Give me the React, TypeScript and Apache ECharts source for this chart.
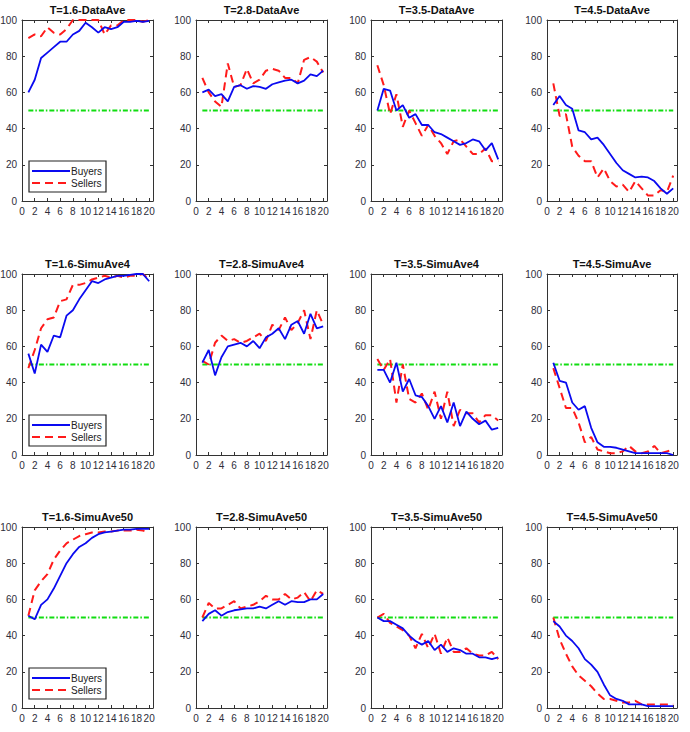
import React, { useEffect, useRef } from "react";
import * as echarts from "echarts";

// ---- data -------------------------------------------------------------
const periods = [1, 2, 3, 4, 5, 6, 7, 8, 9, 10, 11, 12, 13, 14, 15, 16, 17, 18, 19, 20];
const xTicks = [0, 2, 4, 6, 8, 10, 12, 14, 16, 18, 20];
const yTicks = [0, 20, 40, 60, 80, 100];
const referenceLevel = 50;

const titles = [
  "T=1.6-DataAve", "T=2.8-DataAve", "T=3.5-DataAve", "T=4.5-DataAve",
  "T=1.6-SimuAve4", "T=2.8-SimuAve4", "T=3.5-SimuAve4", "T=4.5-SimuAve",
  "T=1.6-SimuAve50", "T=2.8-SimuAve50", "T=3.5-SimuAve50", "T=4.5-SimuAve50",
];

// Row 1: experimental data averages
const buyersData16 = [60, 67, 79, 82, 85, 88, 88, 92, 94, 98.5, 96, 93, 96, 95, 96, 99, 99, 99.5, 99, 99.5];
const sellersData16 = [90, 92, 91, 96, 93, 92, 95, 100, 100, 100, 100, 100, 92, 97, 97, 100, 100, 100, 99, 100];
const buyersData28 = [60, 61.5, 58, 59, 55, 63, 64, 62, 63.5, 63, 62, 64.5, 65.5, 66.5, 67, 65, 66.5, 70, 69, 72];
const sellersData28 = [68, 60, 55, 52, 76, 63, 64, 73, 65, 67, 72, 73, 72, 68, 68, 65, 78, 79.5, 77, 71];
const buyersData35 = [50, 62, 61, 50, 53, 46, 48, 42, 42, 38, 37, 35, 33, 31, 32, 34, 33, 28, 32, 23];
const sellersData35 = [75, 64, 48, 59, 41, 50, 43, 36, 42, 36, 32, 26, 33, 34, 30, 26, 26, 29, 22, 22];
const buyersData45 = [53, 58, 53, 51, 39, 38, 34, 35, 31, 26, 21, 17, 15, 13, 13.5, 13, 11, 7, 4, 7];
const sellersData45 = [65, 47, 48, 30, 25, 22, 22, 13, 18, 11, 8, 9, 5, 11, 7, 3, 3, 6, 5, 14];

// Row 2: simulation, 4-run averages
const buyersSim4_16 = [56, 45, 61, 57, 66, 65, 77, 80, 86, 91, 96, 95, 97, 98, 99, 99, 99.5, 100, 100, 96];
const sellersSim4_16 = [48, 58, 70, 75, 76, 85, 86, 94, 94, 95, 97, 98, 99, 98, 99, 98, 99, 99, 100, 97];
const buyersSim4_28 = [51, 58, 44, 54, 60, 61, 62, 60, 63, 59, 65, 67, 70, 64, 72, 74, 67, 78, 70, 71];
const sellersSim4_28 = [52, 50, 62, 66, 63, 64, 62, 63, 65, 67, 63, 72, 69, 76, 69, 73, 80, 64, 80, 72];
const buyersSim4_35 = [47, 47, 40, 51, 35, 42, 33, 32, 27, 20, 27, 18, 29, 16, 24, 20, 17, 19, 14, 15];
const sellersSim4_35 = [53, 47, 53, 29, 50, 31, 29, 34, 25, 35, 20, 35, 16, 25, 23, 23, 18, 22, 22, 19];
const buyersSim4_45 = [51, 41, 40, 29, 25, 27, 15, 7, 4.5, 4.5, 4, 3, 2, 1, 1, 1, 1, 1, 1, 0];
const sellersSim4_45 = [48, 37, 26, 26, 18, 7, 10, 3, 2, 1, 1, 2, 5, 2, 1, 2, 5, 1, 2, 3];

// Row 3: simulation, 50-run averages
const buyersSim50_16 = [51, 49, 57, 60, 66, 73, 80, 85, 89, 91, 94, 96, 97, 97.5, 98, 98.5, 98.5, 99, 99, 99];
const sellersSim50_16 = [51, 65, 70, 74, 82, 87, 91, 93, 95, 96, 97, 97, 97.5, 97.5, 98, 98, 98, 98.5, 98, 97];
const buyersSim50_28 = [48, 52, 54, 51, 53, 54, 54.5, 55, 55, 56, 55, 57, 59, 57, 59, 58.5, 58.5, 60, 60, 63];
const sellersSim50_28 = [50, 58, 55, 55, 57, 59, 55, 56, 57, 59, 62, 60, 60, 63, 60, 61, 64, 59, 65, 63];
const buyersSim50_35 = [50, 48, 48, 46, 44, 40, 37, 35, 37, 32, 35, 31, 33, 32, 30, 30, 28, 28, 27, 28];
const sellersSim50_35 = [50, 52, 47, 45, 43, 40, 33, 41, 33, 41, 30, 39, 31, 31, 33, 30, 29, 29, 31, 27];
const buyersSim50_45 = [48, 45, 40, 37, 33, 27, 24, 20, 13, 7, 5, 4, 2, 2, 2, 1, 1, 1, 1, 1];
const sellersSim50_45 = [50, 38, 30, 23, 18, 15, 12, 8, 5, 5, 4, 3, 3, 4, 2, 2, 2, 2, 2, 2];

const buyersSeries = [
  buyersData16, buyersData28, buyersData35, buyersData45,
  buyersSim4_16, buyersSim4_28, buyersSim4_35, buyersSim4_45,
  buyersSim50_16, buyersSim50_28, buyersSim50_35, buyersSim50_45,
];
const sellersSeries = [
  sellersData16, sellersData28, sellersData35, sellersData45,
  sellersSim4_16, sellersSim4_28, sellersSim4_35, sellersSim4_45,
  sellersSim50_16, sellersSim50_28, sellersSim50_35, sellersSim50_45,
];

// ---- layout -----------------------------------------------------------
const GRID_LEFT = [22, 196, 371, 547];
const GRID_WIDTH = [131, 131, 131, 130];
const GRID_TOP = [20, 274, 527];
const GRID_HEIGHT = 181;
const X_MAX = 20.6;

const BLUE = "#0a0af0";
const RED = "#ff1a1a";
const GREEN = "#11dd11";
const FRAME = "#333333";
const LABEL = "#2e2e3a";
const FONT = "'Liberation Sans', Arial, sans-serif";

const RED_DASH = [8, 5];
const GREEN_DASH = [5, 2, 1.5, 2];

function buildOption() {
  const grid: any[] = [];
  const xAxis: any[] = [];
  const yAxis: any[] = [];
  const series: any[] = [];
  const graphic: any[] = [];

  titles.forEach((title, i) => {
    const row = Math.floor(i / 4);
    const col = i % 4;
    const left = GRID_LEFT[col];
    const width = GRID_WIDTH[col];
    const top = GRID_TOP[row];

    grid.push({ left, top, width, height: GRID_HEIGHT, outerBoundsMode: "none" });

    const frameLine = { show: true, onZero: false, lineStyle: { color: FRAME, width: 1 } };
    const tick = (vals: number[]) => ({
      show: true, inside: true, length: 3, customValues: vals,
      lineStyle: { color: FRAME, width: 1 },
    });

    xAxis.push({
      gridIndex: i, type: "value", min: 0, max: X_MAX, position: "bottom",
      axisLine: frameLine, axisTick: tick(xTicks), splitLine: { show: false },
      axisLabel: {
        customValues: xTicks, margin: 5, fontSize: 10, fontFamily: FONT, color: LABEL,
      },
    });
    xAxis.push({
      gridIndex: i, type: "value", min: 0, max: X_MAX, position: "top",
      axisLine: frameLine, axisTick: tick(xTicks), splitLine: { show: false },
      axisLabel: { show: false },
    });
    yAxis.push({
      gridIndex: i, type: "value", min: 0, max: 100, interval: 20, position: "left",
      axisLine: frameLine, axisTick: tick(yTicks), splitLine: { show: false },
      axisLabel: { margin: 5, fontSize: 10, fontFamily: FONT, color: LABEL },
    });
    yAxis.push({
      gridIndex: i, type: "value", min: 0, max: 100, interval: 20, position: "right",
      axisLine: frameLine, axisTick: tick(yTicks), splitLine: { show: false },
      axisLabel: { show: false },
    });

    const xIdx = i * 2;
    const yIdx = i * 2;

    series.push({
      type: "line", name: "Reference", xAxisIndex: xIdx, yAxisIndex: yIdx,
      data: [[periods[0], referenceLevel], [periods[periods.length - 1], referenceLevel]],
      symbol: "none", silent: true,
      lineStyle: { color: GREEN, width: 2, type: GREEN_DASH },
    });
    series.push({
      type: "line", name: "Sellers", xAxisIndex: xIdx, yAxisIndex: yIdx,
      data: periods.map((p, k) => [p, sellersSeries[i][k]]),
      symbol: "none",
      lineStyle: { color: RED, width: 2, type: RED_DASH },
    });
    series.push({
      type: "line", name: "Buyers", xAxisIndex: xIdx, yAxisIndex: yIdx,
      data: periods.map((p, k) => [p, buyersSeries[i][k]]),
      symbol: "none",
      lineStyle: { color: BLUE, width: 1.8 },
    });

    graphic.push({
      type: "text", x: left + width / 2, y: top - 10,
      style: {
        text: title, font: `bold 11px ${FONT}`, fill: "#111",
        textAlign: "center", textVerticalAlign: "middle",
      },
    });

    // legend box in the first column
    if (col === 0) {
      const bx = left + 7;
      const by = top + GRID_HEIGHT - 40;
      const bw = 77;
      const bh = 31;
      const y1 = by + 10;
      const y2 = by + 22;
      graphic.push({
        type: "rect", shape: { x: bx, y: by, width: bw, height: bh },
        style: { fill: "#fff", stroke: "#222", lineWidth: 1.2 },
      });
      graphic.push({
        type: "line", shape: { x1: bx + 3, y1, x2: bx + 41, y2: y1 },
        style: { stroke: BLUE, lineWidth: 1.8 },
      });
      graphic.push({
        type: "line", shape: { x1: bx + 3, y1: y2, x2: bx + 41, y2 },
        style: { stroke: RED, lineWidth: 2, lineDash: RED_DASH },
      });
      graphic.push({
        type: "text", x: bx + 42, y: y1,
        style: { text: "Buyers", font: `10px ${FONT}`, fill: "#222", textAlign: "left", textVerticalAlign: "middle" },
      });
      graphic.push({
        type: "text", x: bx + 42, y: y2,
        style: { text: "Sellers", font: `10px ${FONT}`, fill: "#222", textAlign: "left", textVerticalAlign: "middle" },
      });
    }
  });

  return { animation: false, backgroundColor: "#fff", grid, xAxis, yAxis, series, graphic };
}

export default function App() {
  const ref = useRef<HTMLDivElement>(null);
  useEffect(() => {
    if (!ref.current) return;
    const chart = echarts.init(ref.current, undefined, { renderer: "svg" });
    chart.setOption(buildOption() as any);
    return () => chart.dispose();
  }, []);
  return (
    <div
      ref={ref}
      style={{ position: "absolute", left: 0, top: 0, width: 690, height: 732, background: "#fff" }}
    />
  );
}
